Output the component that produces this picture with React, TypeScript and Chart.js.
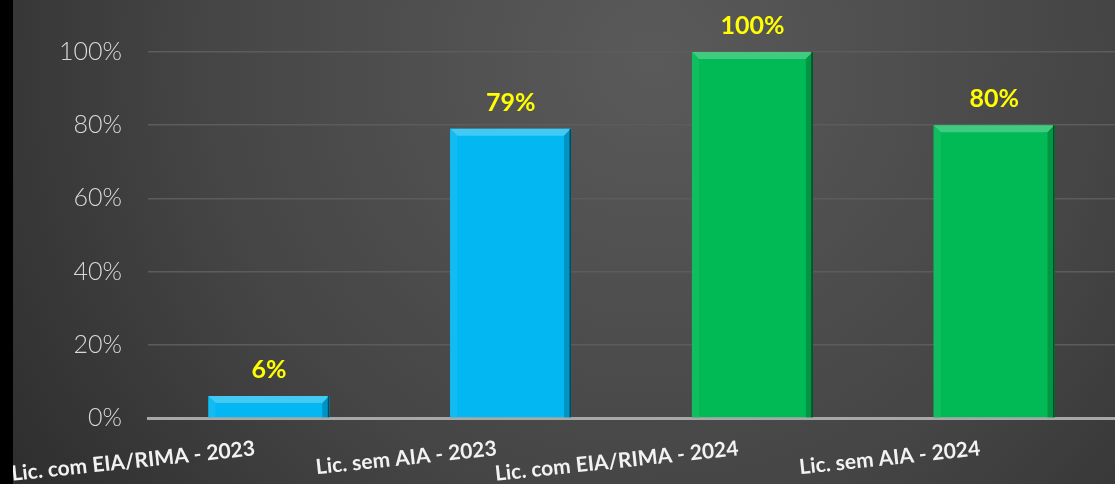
import React, { useEffect, useRef } from "react";
import { Chart, registerables } from "chart.js";

Chart.register(...registerables);

const categories = [
  "Lic. com EIA/RIMA - 2023",
  "Lic. sem AIA - 2023",
  "Lic. com EIA/RIMA - 2024",
  "Lic. sem AIA - 2024",
];
const values = [6, 79, 100, 80];
const barColors = ["#03B8F2", "#03B8F2", "#02BA55", "#02BA55"];
const yTicks = [0, 20, 40, 60, 80, 100];

function shade(hex: string, amt: number) {
  const n = parseInt(hex.slice(1), 16);
  let r = (n >> 16) & 255, g = (n >> 8) & 255, b = n & 255;
  const f = (c: number) =>
    Math.max(0, Math.min(255, Math.round(amt >= 0 ? c + (255 - c) * amt : c * (1 + amt))));
  return `rgb(${f(r)},${f(g)},${f(b)})`;
}

const bgPlugin = {
  id: "bg",
  beforeDraw(chart: any) {
    const { ctx, width, height } = chart;
    ctx.save();
    const g = ctx.createRadialGradient(640, 60, 0, 640, 60, 820);
    g.addColorStop(0, "#5a5a5a");
    g.addColorStop(0.55, "#454545");
    g.addColorStop(1, "#2a2a2a");
    ctx.fillStyle = g;
    ctx.fillRect(0, 0, width, height);
    ctx.restore();
  },
};

const bevelPlugin = {
  id: "bevel",
  afterDatasetsDraw(chart: any) {
    const { ctx } = chart;
    const meta = chart.getDatasetMeta(0);
    meta.data.forEach((bar: any, i: number) => {
      const { x, y, base, width } = bar.getProps(["x", "y", "base", "width"], true);
      const l = x - width / 2, r = x + width / 2, t = y, btm = base;
      const b = Math.min(7, (btm - t) / 2);
      const c = barColors[i];
      ctx.save();
      const poly = (pts: number[][], col: string) => {
        ctx.beginPath();
        ctx.moveTo(pts[0][0], pts[0][1]);
        for (let k = 1; k < pts.length; k++) ctx.lineTo(pts[k][0], pts[k][1]);
        ctx.closePath();
        ctx.fillStyle = col;
        ctx.fill();
      };
      poly([[l, t], [r, t], [r - b, t + b], [l + b, t + b]], shade(c, 0.25));
      poly([[l, t], [l + b, t + b], [l + b, btm], [l, btm]], shade(c, 0.06));
      poly([[r, t], [r, btm], [r - b, btm], [r - b, t + b]], shade(c, -0.2));
      ctx.fillStyle = shade(c, -0.6);
      ctx.fillRect(r - 1.5, t, 1.5, btm - t);
      ctx.restore();
    });
  },
};

const labelPlugin = {
  id: "valueLabels",
  afterDatasetsDraw(chart: any) {
    const { ctx } = chart;
    const meta = chart.getDatasetMeta(0);
    ctx.save();
    ctx.font = "bold 25px Lato";
    ctx.fillStyle = "#FFFF00";
    ctx.textAlign = "center";
    ctx.textBaseline = "alphabetic";
    meta.data.forEach((bar: any, i: number) => {
      const { x, y } = bar.getProps(["x", "y"], true);
      ctx.fillText(values[i] + "%", x, y - 18);
    });
    ctx.restore();
  },
};

export default function App() {
  const ref = useRef<HTMLCanvasElement>(null);
  useEffect(() => {
    if (!ref.current) return;
    const chart = new Chart(ref.current, {
      type: "bar",
      data: {
        labels: categories,
        datasets: [
          {
            data: values,
            backgroundColor: barColors,
            borderWidth: 0,
            barPercentage: 0.5,
            categoryPercentage: 1,
          },
        ],
      },
      options: {
        animation: false,
        responsive: true,
        maintainAspectRatio: false,
        layout: { padding: { top: 52, right: 0, left: 0, bottom: 0 } },
        plugins: { legend: { display: false }, tooltip: { enabled: false } },
        scales: {
          x: {
            grid: { display: false, drawTicks: false },
            border: { display: true, color: "#a8a8a8", width: 3 },
            ticks: {
              color: "#f2f2f2",
              font: { family: "Lato", weight: "bold", size: 21 },
              minRotation: 6,
              maxRotation: 6,
              padding: 18,
              labelOffset: -14,
              autoSkip: false,
            },
            afterFit: (s: any) => {
              s.height = 66;
              s.paddingLeft = 0;
              s.paddingRight = 0;
            },
          },
          y: {
            min: 0,
            max: 100,
            afterBuildTicks: (s: any) => {
              s.ticks = yTicks.map((v) => ({ value: v }));
            },
            grid: {
              color: "#5c5c5c",
              lineWidth: 1.5,
              drawTicks: false,
            },
            border: { display: false },
            ticks: {
              color: "#d9d9d9",
              font: { family: "Lato", size: 25, weight: 300 },
              padding: 26,
              callback: (v: any) => v + "%",
            },
            afterFit: (s: any) => {
              s.width = 135;
            },
          },
        },
      },
      plugins: [bgPlugin, bevelPlugin, labelPlugin],
    });
    return () => chart.destroy();
  }, []);
  return (
    <div style={{ position: "fixed", left: 0, top: 0, width: 1115, height: 484, background: "#000" }}>
      <div style={{ position: "absolute", left: 13, top: 0, width: 1102, height: 484 }}>
        <canvas ref={ref} />
      </div>
    </div>
  );
}
